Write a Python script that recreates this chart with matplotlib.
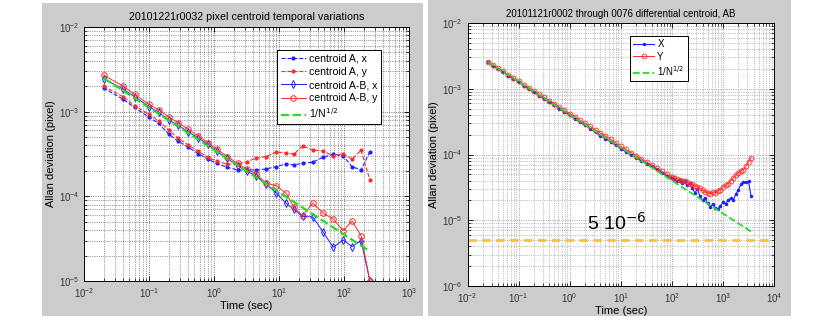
import numpy as np
import matplotlib
matplotlib.use("Agg")
import matplotlib.pyplot as plt
from matplotlib.patches import Rectangle
from matplotlib.ticker import NullFormatter

plt.rcParams['font.family'] = ['Liberation Sans', 'DejaVu Sans']

# ---- left panel: 20101221r0032 ----
tau_l = [0.02, 0.04, 0.06, 0.1, 0.14, 0.2, 0.28, 0.4, 0.57, 0.8, 1.1, 1.6, 2.3, 3.2,
         4.4, 6.3, 9, 12.8, 17, 23, 33, 48, 68, 97, 133, 183, 250]
a_x = [1.9e-3, 1.4e-3, 1.12e-3, 8.6e-4, 7.3e-4, 5.45e-4, 4.5e-4, 3.8e-4, 3.2e-4, 2.75e-4,
       2.45e-4, 2.2e-4, 2.05e-4, 2.05e-4, 2.05e-4, 2.1e-4, 2.25e-4, 2.4e-4, 2.35e-4, 2.46e-4,
       2.53e-4, 2.9e-4, 3.14e-4, 3.0e-4, 2.24e-4, 2.05e-4, 3.37e-4]
a_y = [2.0e-3, 1.5e-3, 1.18e-3, 9.3e-4, 7.8e-4, 6.1e-4, 4.85e-4, 4.05e-4, 3.4e-4, 2.9e-4,
       2.6e-4, 2.4e-4, 2.39e-4, 2.57e-4, 2.82e-4, 2.95e-4, 3.32e-4, 3.28e-4, 3.14e-4, 3.94e-4,
       3.53e-4, 3.43e-4, 3.0e-4, 3.2e-4, 2.75e-4, 3.5e-4, 1.56e-4]
ab_x = [2.45e-3, 1.85e-3, 1.5e-3, 1.15e-3, 9.8e-4, 8.0e-4, 6.9e-4, 5.8e-4, 4.9e-4, 4.1e-4,
        3.4e-4, 2.8e-4, 2.3e-4, 1.98e-4, 1.75e-4, 1.4e-4, 1.1e-4, 8.3e-5, 7.0e-5, 5.8e-5,
        5.7e-5, 3.77e-5, 2.5e-5, 3.05e-5, 2.55e-5, 3.0e-5, 1.0e-5]
ab_y = [2.71e-3, 2.0e-3, 1.6e-3, 1.22e-3, 1.05e-3, 8.7e-4, 7.4e-4, 6.2e-4, 5.2e-4, 4.3e-4,
        3.6e-4, 2.95e-4, 2.45e-4, 2.1e-4, 1.84e-4, 1.43e-4, 1.34e-4, 1.09e-4, 7.4e-5, 5.9e-5,
        8.3e-5, 6.3e-5, 5.4e-5, 3.94e-5, 5.1e-5, 3.44e-5, 1.0e-5]
ref_l_tau = [0.02, 250]
ref_l = [2.5e-3, 2.24e-5]

# ---- right panel: 20101121r0002-0076 AB ----
tau_r = [0.025, 0.032, 0.04, 0.05, 0.063, 0.079, 0.1, 0.126, 0.158, 0.2, 0.25, 0.32, 0.4, 0.5,
         0.63, 0.79, 1.0, 1.26, 1.58, 2.0, 2.5, 3.2, 4.0, 5.0, 6.3, 7.9, 10, 12.6, 15.8, 20,
         25, 32, 40, 50, 63, 79, 100, 112, 126, 141, 158, 178, 200, 224, 251, 282, 316, 355,
         398, 447, 501, 562, 631, 708, 794, 891, 1000, 1122, 1259, 1413, 1585, 1778, 1995,
         2239, 2512, 2818, 3162, 3548]
r_x = [2.52e-3, 2.22e-3, 1.98e-3, 1.78e-3, 1.58e-3, 1.42e-3, 1.25e-3, 1.12e-3, 9.9e-4, 8.8e-4,
       7.9e-4, 7.0e-4, 6.2e-4, 5.6e-4, 4.95e-4, 4.45e-4, 3.95e-4, 3.5e-4, 3.12e-4, 2.78e-4,
       2.47e-4, 2.18e-4, 1.94e-4, 1.75e-4, 1.55e-4, 1.4e-4, 1.22e-4, 1.1e-4, 9.9e-5, 8.9e-5,
       8.1e-5, 7.3e-5, 6.6e-5, 6.0e-5, 5.3e-5, 4.7e-5, 4.4e-5, 4.2e-5, 3.9e-5, 4.1e-5,
       3.7e-5, 3.9e-5, 3.4e-5, 3.7e-5, 3.1e-5, 2.6e-5, 3.0e-5, 2.3e-5, 2.0e-5, 2.2e-5,
       1.8e-5, 1.6e-5, 1.75e-5, 1.55e-5, 1.5e-5, 1.65e-5, 1.9e-5, 1.75e-5, 2.05e-5, 2.15e-5,
       2.0e-5, 2.5e-5, 2.9e-5, 3.5e-5, 3.85e-5, 3.8e-5, 3.9e-5, 2.3e-5]
r_y = [2.58e-3, 2.30e-3, 2.05e-3, 1.84e-3, 1.64e-3, 1.47e-3, 1.31e-3, 1.16e-3, 1.04e-3, 9.3e-4,
       8.3e-4, 7.4e-4, 6.6e-4, 5.9e-4, 5.25e-4, 4.7e-4, 4.2e-4, 3.75e-4, 3.35e-4, 2.98e-4,
       2.68e-4, 2.37e-4, 2.12e-4, 1.9e-4, 1.72e-4, 1.5e-4, 1.33e-4, 1.2e-4, 1.07e-4, 9.6e-5,
       8.6e-5, 7.7e-5, 6.9e-5, 6.2e-5, 5.6e-5, 5.0e-5, 4.6e-5, 4.4e-5, 4.3e-5, 4.1e-5,
       4.0e-5, 3.9e-5, 3.8e-5, 3.6e-5, 3.5e-5, 3.3e-5, 3.2e-5, 3.05e-5, 2.9e-5, 2.7e-5,
       2.6e-5, 2.55e-5, 2.7e-5, 2.6e-5, 2.8e-5, 2.9e-5, 3.2e-5, 3.4e-5, 3.6e-5, 4.0e-5,
       4.4e-5, 4.8e-5, 5.3e-5, 5.6e-5, 5.9e-5, 6.6e-5, 7.6e-5, 9.0e-5]
ref_r_tau = [0.025, 3700]
ref_r = [2.55e-3, 6.6e-6]
floor_level = 5e-6

BLUE = '#1f1fff'
RED = '#ff2a2a'
GREEN = '#22dd22'
GRAY = '#cccccc'

fig = plt.figure(figsize=(8.3, 3.28), dpi=100, facecolor='white')
fig.patches.append(Rectangle((0.0506, 0.0366), 0.459, 0.954, transform=fig.transFigure,
                             facecolor=GRAY, edgecolor='none', zorder=-10))
fig.patches.append(Rectangle((0.5157, 0.0366), 0.4373, 0.962, transform=fig.transFigure,
                             facecolor=GRAY, edgecolor='none', zorder=-10))


def style_axes(ax, xlim, ylim, gridcolor):
    ax.set_zorder(1)
    ax.set_xscale('log')
    ax.set_yscale('log')
    ax.set_xlim(*xlim)
    ax.set_ylim(*ylim)
    ax.set_facecolor('white')
    ax.grid(True, which='major', ls=':', color=gridcolor, lw=0.6)
    ax.grid(True, which='minor', ls=':', color=gridcolor, lw=0.5)
    ax.tick_params(which='both', direction='in', top=True, right=True, labelsize=7,
                   labelcolor='#333333')
    ax.tick_params(which='major', length=3.5, width=0.6)
    ax.tick_params(which='minor', length=2, width=0.5)
    ax.xaxis.set_minor_formatter(NullFormatter())
    ax.yaxis.set_minor_formatter(NullFormatter())
    for s in ax.spines.values():
        s.set_linewidth(0.7)
    ax.set_xlabel('Time (sec)', fontsize=8, labelpad=1)
    ax.set_ylabel('Allan deviation (pixel)', fontsize=8, labelpad=2)


ax1 = fig.add_axes([0.1012, 0.1433, 0.3916, 0.7744])
style_axes(ax1, (1e-2, 1e3), (1e-5, 1e-2), '#444444')
ax1.plot(tau_l, a_x, '--', marker='.', color=BLUE, lw=0.8, ms=4, label='centroid A, x')
ax1.plot(tau_l, a_y, '--', marker='.', color=RED, lw=0.8, ms=4, label='centroid A, y')
ax1.plot(tau_l, ab_x, '-', marker='d', mfc='none', color=BLUE, lw=0.7, ms=4, mew=0.7,
         label='centroid A-B, x')
ax1.plot(tau_l, ab_y, '-', marker='o', mfc='none', color=RED, lw=0.7, ms=4, mew=0.7,
         label='centroid A-B, y')
ax1.plot(ref_l_tau, ref_l, '--', color=GREEN, lw=1.6, label='1/N$^{1/2}$')
ax1.set_title('20101221r0032 pixel centroid temporal variations', fontsize=7.7, pad=5)
leg1 = ax1.legend(loc='upper right', bbox_to_anchor=(0.914, 0.909), fontsize=7.6,
                  fancybox=False, framealpha=1, edgecolor='black', handlelength=2.4,
                  borderpad=0.35, labelspacing=0.3, handletextpad=0.3, borderaxespad=0)
leg1.get_frame().set_linewidth(0.7)

ax2 = fig.add_axes([0.5633, 0.128, 0.3693, 0.8018])
style_axes(ax2, (1e-2, 1e4), (1e-6, 1e-2), '#888888')
ax2.plot(tau_r, r_x, '-', marker='.', color=BLUE, lw=0.8, ms=3, label='X')
ax2.plot(tau_r, r_y, '-', marker='o', mfc='none', color=RED, lw=0.7, ms=3.5, mew=0.6,
         label='Y')
ax2.plot(ref_r_tau, ref_r, '--', color=GREEN, lw=1.3, label='1/N$^{1/2}$')
ax2.axhline(floor_level, ls='--', color='#f7c23a', lw=2.0, dashes=(3, 2))
ax2.text(2.2, 9.2e-6, '5 10$^{-6}$', fontsize=14, va='center', ha='left')
ax2.set_title('20101121r0002 through 0076 differential centroid, AB', fontsize=7, pad=4)
leg2 = ax2.legend(loc='upper right', bbox_to_anchor=(0.719, 0.951), fontsize=7,
                  fancybox=False, framealpha=1, edgecolor='black', handlelength=2.2,
                  borderpad=0.35, labelspacing=0.25, handletextpad=0.3, borderaxespad=0)
leg2.get_frame().set_linewidth(0.7)

fig.savefig('out.png', dpi=100, facecolor=fig.get_facecolor())
